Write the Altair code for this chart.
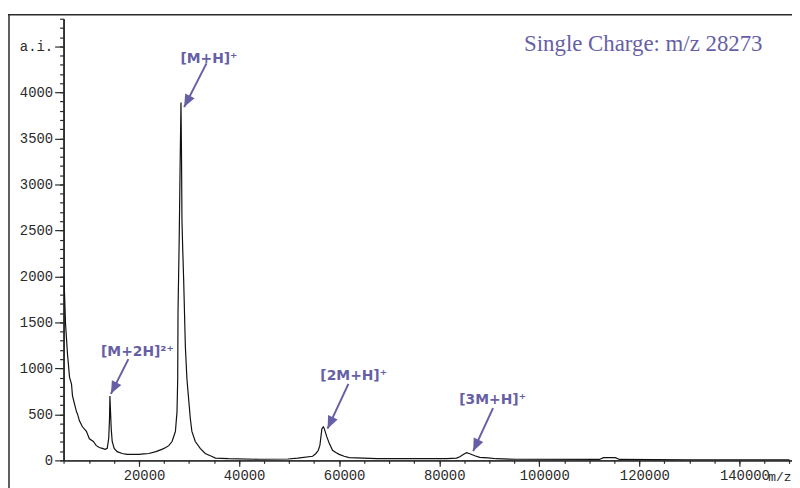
import altair as alt
import pandas as pd

# ---- spectrum (m/z, intensity a.i.) ----
mz = [4920, 5118, 5316, 5712, 6109, 6506, 6704, 7101, 7498, 7696, 8093, 8688, 9481,
      10076, 10870, 11465, 12060, 12655, 13250, 13646, 13944, 14103, 14182, 14281,
      14440, 14638, 15035, 15630, 16622, 17613, 18605, 19994, 20986, 21978, 23366,
      24556, 25350, 25945, 26599, 26936, 27273, 27591, 27730, 27789, 28027, 28225,
      28384, 28483, 28582, 28721, 28919, 29256, 29574, 29911, 30248, 30566, 31240,
      32232, 33224, 34474, 35267, 37846, 43796, 49747, 51729, 54705, 55359, 55835,
      56153, 56351, 56549, 56827, 57026, 57224, 57541, 58017, 58672, 59326, 60000,
      60992, 61984, 67594, 75528, 81483, 83467, 84121, 84796, 85450, 86105, 87097,
      88088, 89755, 91401, 95368, 112000, 112822, 115202, 116000, 130000, 150000]
intensity = [2010, 1800, 1480, 1150, 905, 830, 700, 615, 530, 505, 430, 365, 315,
             235, 205, 160, 140, 130, 120, 130, 240, 455, 700, 560,
             345, 205, 130, 95, 75, 65, 65, 65, 70, 75, 95,
             120, 140, 160, 205, 260, 315, 530, 885, 1605, 2395, 3260,
             3890, 3365, 2610, 2320, 1965, 1240, 885, 670, 455, 315, 205,
             130, 75, 45, 25, 18, 12, 15, 25, 45, 75, 110,
             165, 255, 345, 365, 345, 310, 255, 185, 110, 85, 65,
             45, 30, 20, 18, 18, 24, 40, 65, 83, 72, 50,
             32, 28, 18, 12, 10, 30, 30, 10, 6, 5]

# ---- axes ----
y_major = list(range(0, 4501, 500))
y_minor = list(range(0, 4801, 100))
x_major = list(range(20000, 140001, 20000))
x_minor = list(range(5000, 150001, 5000))

# ---- annotations ----
ann_label = ["[M+H]⁺", "[M+2H]²⁺", "[2M+H]⁺", "[3M+H]⁺"]
ann_label_mz = [28265, 12397, 56233, 84001]
ann_label_int = [4363, 1176, 922, 653]
arrow_start_mz = [33482, 17872, 61846, 90746]
arrow_start_int = [4315, 1100, 831, 568]
arrow_tip_mz = [29019, 14380, 57681, 86779]
arrow_tip_int = [3840, 723, 345, 100]
arrow_angle = [207, 207, 205, 205]

title_text = "Single Charge: m/z 28273"
axis_unit = "m/z"

PURPLE = "#665fa6"
INK = "#2a2a2a"
MONO = "Liberation Mono"

spec = pd.DataFrame({"mz": mz, "intensity": intensity})
ann = pd.DataFrame({
    "label": ann_label, "lx": ann_label_mz, "ly": ann_label_int,
    "x0": arrow_start_mz, "y0": arrow_start_int,
    "x1": arrow_tip_mz, "y1": arrow_tip_int, "angle": arrow_angle,
})
one = pd.DataFrame({"k": [0]})

xs = alt.Scale(domain=[4920, 150500], nice=False, zero=False)
ys = alt.Scale(domain=[0, 4800], nice=False)

x_major_axis = alt.Axis(
    values=x_major, format="d", title=None, grid=False, orient="bottom",
    tickSize=6, domainColor=INK, domainWidth=1.5, tickColor=INK, tickWidth=1.2,
    labelFont=MONO, labelFontSize=14, labelColor=INK, labelPadding=2,
    labelOffset=5, labelOverlap=False, labelFlush=False,
)
y_major_axis = alt.Axis(
    values=y_major, format="d", title=None, grid=False, orient="left",
    labelExpr="datum.value == 4500 ? 'a.i.' : datum.label",
    tickSize=9, domainColor=INK, domainWidth=1.5, tickColor=INK, tickWidth=1.2,
    labelFont=MONO, labelFontSize=14, labelColor=INK, labelPadding=2,
    labelOverlap=False, labelFlush=False,
)
x_minor_axis = alt.Axis(
    values=x_minor, title=None, grid=False, orient="bottom", labels=False,
    domain=True, domainColor=INK, domainWidth=1.5,
    tickSize=3, tickColor=INK, tickWidth=1.2,
)
y_minor_axis = alt.Axis(
    values=y_minor, title=None, grid=False, orient="left", labels=False,
    domain=True, domainColor=INK, domainWidth=1.5,
    tickSize=4, tickColor=INK, tickWidth=1.2,
)

line = alt.Chart(spec).mark_line(color="#111111", strokeWidth=1.2, clip=True).encode(
    x=alt.X("mz:Q", scale=xs, axis=x_major_axis),
    y=alt.Y("intensity:Q", scale=ys, axis=y_major_axis),
)
minor = alt.Chart(spec).mark_line(opacity=0, clip=True).encode(
    x=alt.X("mz:Q", scale=xs, axis=x_minor_axis),
    y=alt.Y("intensity:Q", scale=ys, axis=y_minor_axis),
)

shaft = alt.Chart(ann).mark_rule(color=PURPLE, strokeWidth=2).encode(
    x=alt.X("x0:Q", axis=None), y=alt.Y("y0:Q", axis=None), x2="x1:Q", y2="y1:Q",
)
head = alt.Chart(ann).mark_point(
    shape="M0,0 L0.42,1 L-0.42,1 Z", filled=True, size=640, color=PURPLE, opacity=1,
).encode(
    x=alt.X("x1:Q", axis=None), y=alt.Y("y1:Q", axis=None),
    angle=alt.Angle("angle:Q", scale=None),
)
labels = alt.Chart(ann).mark_text(
    align="left", baseline="middle", font="DejaVu Sans", fontSize=14,
    fontWeight="bold", color=PURPLE,
).encode(
    x=alt.X("lx:Q", axis=None), y=alt.Y("ly:Q", axis=None), text="label:N",
)

frame_left = alt.Chart(one).mark_rule(color=INK, strokeWidth=1.5).encode(
    x=alt.value(-55), y=alt.value(-4), y2=alt.value(480),
)
frame_top = alt.Chart(one).mark_rule(color=INK, strokeWidth=1.5).encode(
    x=alt.value(-56), x2=alt.value(740), y=alt.value(-4),
)
title = alt.Chart(one).mark_text(
    text=title_text, align="left", baseline="alphabetic", font="Liberation Serif",
    fontSize=23, color=PURPLE,
).encode(x=alt.value(464), y=alt.value(32))
unit = alt.Chart(one).mark_text(
    text=axis_unit, align="left", baseline="alphabetic", font=MONO,
    fontSize=13, color=INK,
).encode(x=alt.value(710), y=alt.value(466))

chart = alt.layer(
    line, minor, shaft, head, labels, frame_left, frame_top, title, unit,
).resolve_axis(
    x="independent", y="independent",
).properties(
    width=734, height=445,
    autosize=alt.AutoSizeParams(type="none"),
    padding={"left": 56, "top": 9, "right": 0, "bottom": 26},
).configure_view(stroke=None)

chart.save("out.html", embed_options={"renderer": "svg", "actions": False})
